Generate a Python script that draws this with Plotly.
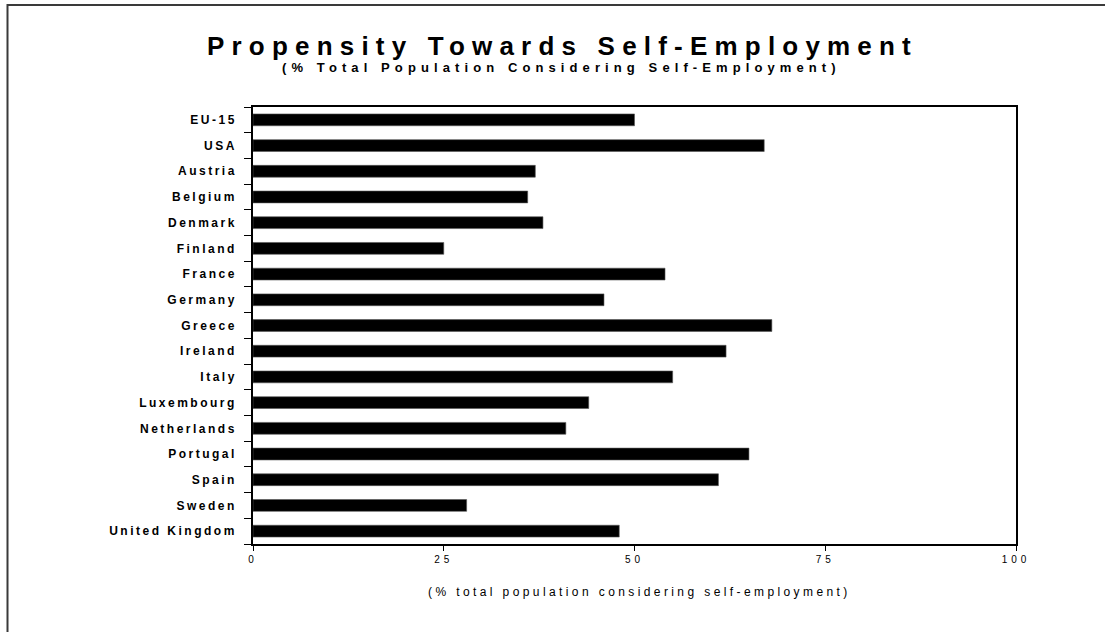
import plotly.graph_objects as go

countries = ["EU-15", "USA", "Austria", "Belgium", "Denmark", "Finland", "France",
             "Germany", "Greece", "Ireland", "Italy", "Luxembourg", "Netherlands",
             "Portugal", "Spain", "Sweden", "United Kingdom"]
values = [50, 67, 37, 36, 38, 25, 54, 46, 68, 62, 55, 44, 41, 65, 61, 28, 48]
x_ticks = [0, 25, 50, 75, 100]

title_text = "Propensity Towards Self-Employment"
subtitle_text = "(% Total Population Considering Self-Employment)"
xaxis_title = "(% total population considering self-employment)"

FONT = "Liberation Sans, Arial, sans-serif"


def spaced(text, px):
    return f'<span style="letter-spacing:{px}px">{text}</span>'


W, H = 1105, 632
L, R, T, B = 253, 1016, 107, 544
pw, ph = R - L, B - T


def px2x(px):
    return (px - L) / pw


def px2y(py):
    return (B - py) / ph


fig = go.Figure()
fig.add_trace(go.Bar(
    y=countries, x=values, orientation="h",
    width=0.46,
    marker=dict(color="black", line=dict(color="#555555", width=0.6)),
    hoverinfo="x+y",
))

fig.update_layout(
    width=W, height=H,
    margin=dict(l=L, r=W - R, t=T, b=H - B),
    paper_bgcolor="white", plot_bgcolor="white",
    showlegend=False,
    font=dict(family=FONT, color="black"),
    bargap=0.54,
    xaxis=dict(
        range=[0, 100], tickvals=x_ticks,
        ticktext=[spaced(str(v), 4) for v in x_ticks],
        ticks="outside", ticklen=5, tickwidth=1.3, tickcolor="black",
        showline=True, linecolor="black", linewidth=1.5, mirror=True,
        showgrid=False, zeroline=False,
        tickfont=dict(family=FONT, size=10, color="black"),
        fixedrange=True,
    ),
    yaxis=dict(
        type="category", autorange="reversed",
        tickvals=countries,
        ticktext=[spaced(c, 2.5) for c in countries],
        tickson="boundaries",
        ticks="outside", ticklen=7, tickwidth=1.3, tickcolor="black",
        showline=True, linecolor="black", linewidth=1.5, mirror=True,
        showgrid=False, zeroline=False,
        tickfont=dict(family=FONT, size=12, color="black", weight="bold"),
        ticklabelstandoff=12,
        fixedrange=True,
    ),
    annotations=[
        dict(text=spaced(title_text, 7.2), xref="paper", yref="paper",
             x=px2x(562), y=px2y(45.5), xanchor="center", yanchor="middle",
             showarrow=False,
             font=dict(family=FONT, size=26, color="black", weight="bold")),
        dict(text=spaced(subtitle_text, 5.1), xref="paper", yref="paper",
             x=px2x(561), y=px2y(67.5), xanchor="center", yanchor="middle",
             showarrow=False,
             font=dict(family=FONT, size=13, color="black", weight="bold")),
        dict(text=spaced(xaxis_title, 3.4), xref="paper", yref="paper",
             x=px2x(639), y=px2y(592), xanchor="center", yanchor="middle",
             showarrow=False,
             font=dict(family=FONT, size=12, color="black")),
    ],
    shapes=[
        dict(type="path", xref="paper", yref="paper",
             path=f"M {px2x(7.5)},{px2y(640)} L {px2x(7.5)},{px2y(5)} L {px2x(1110)},{px2y(5)}",
             line=dict(color="#3a3a3a", width=2)),
    ],
)

fig.write_html("out.html")
